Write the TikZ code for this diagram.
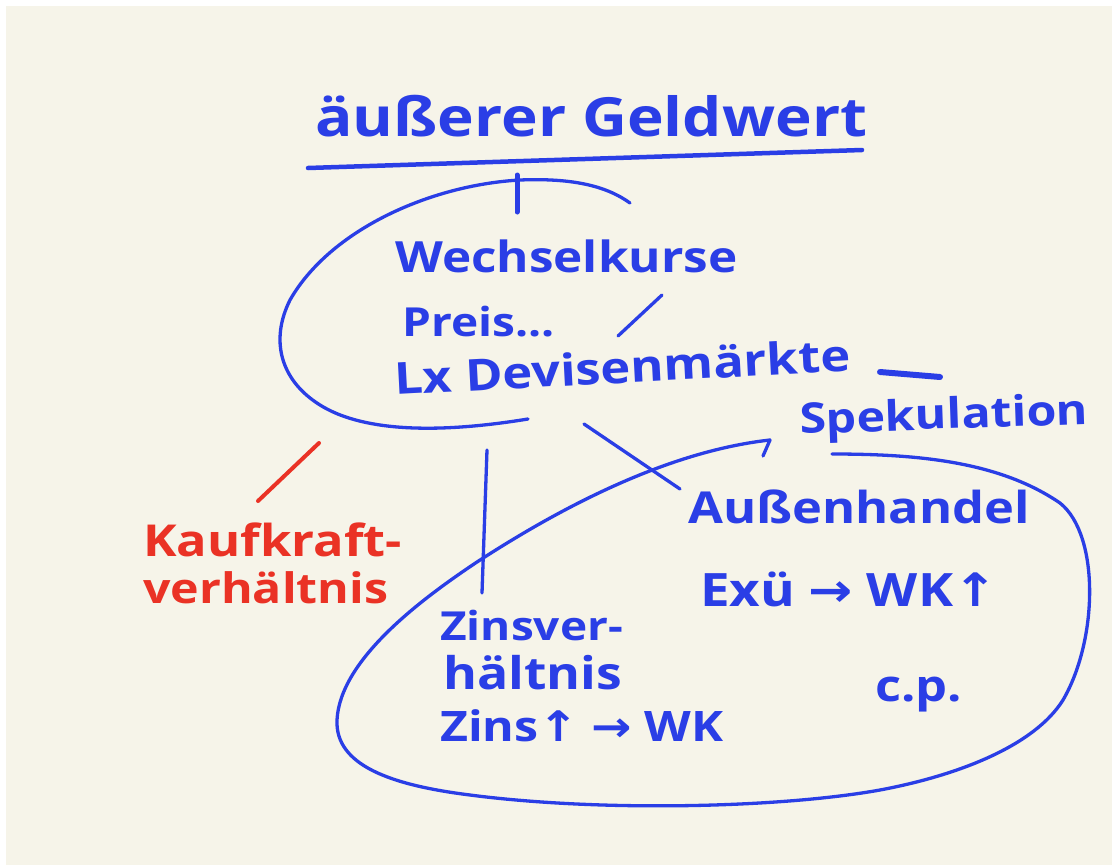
\documentclass[tikz,border=0pt]{standalone}
\usepackage{fontspec}
\setmainfont{Open Sans}[FakeStretch=1.15]
\newfontfamily\arrfont{DejaVu Sans}[FakeStretch=1.15]
\definecolor{paper}{HTML}{F6F4E9}
\definecolor{ink}{HTML}{2A3EE6}
\definecolor{redink}{HTML}{EA3225}
\tikzset{
  hand/.style={inner sep=0pt, anchor=base west, text=ink, font=\bfseries\fontsize{#1}{#1}\selectfont},
  hand/.default=40,
  redhand/.style={hand=#1, text=redink},
  redhand/.default=40,
  stroke/.style={draw=ink, line width=3.3pt, line cap=round, line join=round},
  redstroke/.style={draw=redink, line width=4pt, line cap=round},
}
\begin{document}
\begin{tikzpicture}[x=1pt,y=-1pt]
\useasboundingbox (0,0) rectangle (1112,865);
\fill[white] (0,0) rectangle (1112,865);
\fill[paper] (6,6) rectangle (1112,865);

% title
\node[hand=54] (title) at (315,136) {äußerer Geldwert};
\coordinate (ulA) at (308,168);
\coordinate (ulB) at (862,150);
\draw[stroke, line width=4.5pt] (ulA) -- (ulB);
\coordinate (tickA) at (517,175);
\coordinate (tickB) at (517,212);
\draw[stroke, line width=5pt] (tickA) -- (tickB);

% left loop
\coordinate (lA) at (630,203);
\coordinate (lE) at (528,419);
\draw[stroke] (lA) .. controls (605,185) and (570,178) .. (520,180)
  .. controls (430,185) and (330,230) .. (290,300)
  .. controls (270,340) and (280,380) .. (320,405)
  .. controls (360,430) and (430,435) .. (lE);
\coordinate (sA) at (662,295);
\coordinate (sB) at (618,336);
\draw[stroke] (sA) -- (sB);

\node[hand=43] (wk) at (395,272) {Wechselkurse};
\node[hand=40] (preis) at (402,336) {Preis...};
\node[hand=44, rotate=3] (dev) at (395,395) {Lx Devisenmärkte};
\coordinate (dA) at (880,372);
\coordinate (dB) at (940,377);
\draw[stroke, line width=6pt] (dA) -- (dB);

\node[hand=42, rotate=2] (spek) at (800,434) {Spekulation};

% connectors from left loop
\coordinate (vA) at (487,450);
\coordinate (vB) at (482,593);
\draw[stroke] (vA) -- (vB);
\coordinate (gA) at (584,424);
\coordinate (gB) at (680,489);
\draw[stroke] (gA) -- (gB);
\coordinate (rA) at (319,443);
\coordinate (rB) at (258,501);
\draw[redstroke] (rA) -- (rB);

% red text
\node[redhand=44] (kk1) at (143,556) {Kaufkraft-};
\node[redhand=42] (kk2) at (143,603) {verhältnis};

% big loop
\coordinate (bS) at (832,454);
\coordinate (bE) at (770,440);
\draw[stroke] (bS) .. controls (920,454) and (1000,462) .. (1060,503)
  .. controls (1100,535) and (1098,640) .. (1063,700)
  .. controls (1035,745) and (960,775) .. (880,790)
  .. controls (780,808) and (600,812) .. (470,795)
  .. controls (390,785) and (335,765) .. (337,720)
  .. controls (340,660) and (420,600) .. (477,562)
  .. controls (580,495) and (680,450) .. (bE);
\coordinate (hk) at (763,456);
\draw[stroke] (bE) -- (hk);

\node[hand=44] (aus) at (688,523) {Außenhandel};
\node[hand=46] (exu) at (700,606) {Exü {\arrfont →} WK{\arrfont ↑}};
\node[hand=40] (zv1) at (440,640) {Zinsver-};
\node[hand=45] (zv2) at (443,689) {hältnis};
\node[hand=42] (zins) at (440,741) {Zins{\arrfont ↑} {\arrfont →} WK};
\node[hand=44] (cp) at (875,701) {c.p.};
\end{tikzpicture}
\end{document}
